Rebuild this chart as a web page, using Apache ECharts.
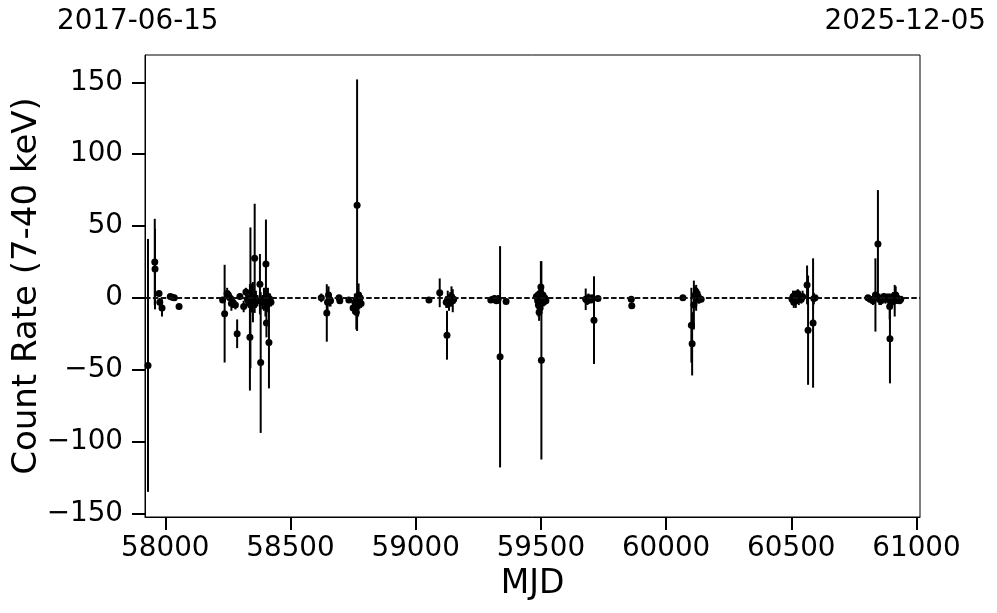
<!DOCTYPE html>
<html>
<head>
<meta charset="utf-8">
<script src="https://cdn.jsdelivr.net/npm/echarts@6/dist/echarts.min.js"></script>
<style>
html,body{margin:0;padding:0;background:#fff;}
#chart{width:997px;height:613px;}
</style>
</head>
<body>
<div id="chart"></div>
<script>
// ---- data ----
const mjd = [
  57931,57958,57959,57975,57978,57987,58020,58028,58036,58055,
  58229,58237,58247,58252,58258,58264,58270,58280,58287,58298,58313,58322,58328,58333,58338,58340,58343,58346,58350,58357,58362,58368,58378,58381,58388,58394,58400,58402,58404,58406,58410,58414,58418,58422,
  58623,58645,58648,58652,58656,58660,58694,58697,58733,58750,58757,58763,58766,58770,58772,58775,58778,58782,
  59053,59096,59122,59125,59128,59133,59138,59143,59148,59152,
  59300,59308,59315,59322,59329,59337,59361,
  59482,59487,59490,59493,59495,59497,59500,59502,59505,59508,59511,59515,59520,
  59679,59686,59690,59695,59700,59705,59712,59728,
  59861,59863,
  60067,60101,60104,60111,60116,60120,60124,60128,60133,60140,
  60503,60507,60510,60514,60518,60522,60526,60530,60535,60540,60545,60563,60567,60587,60590,60595,
  60806,60815,60826,60836,60846,60852,60858,60865,60870,60876,60882,60888,60893,60894,60900,60906,60913,60917,60922,60927,60932,60937
];
const rate = [
  -47,25,20,3,-3,-7,1,0.5,0,-6,
  -1.5,-11,3,2,0,-4,-3,-5,-25,1,-6,4,-1,-3,-27.5,0,-2,0,-3,27.5,-1,-2,9.5,-45,-3,-1,-3,23.5,-17.5,-5,1,-31,-1,-3,
  0,-10.5,-3,2,-1,-2,0,-2,-1.5,-7,-3,-10,64.5,-3,2,-2,0,-4,
  -1.5,3.5,-3,-26,-1,-4,0,1,-2,-1,
  -1.5,-1,-0.5,-2,-1,-41,-2.5,
  1,-2,-5,-10,3,-7,7.5,-43.5,-1,2,-3,0,-2,
  -1,-2,0,-1,-1.5,0,-15.5,-0.5,
  -1,-5.5,
  0,-19,-32,-5,2,0,3,1,-1,-1,
  -1,1,-3,2,-2,0,3,-1,0,-1,1,9,-22.5,-17.5,-0.5,0,
  0,-1,-2,2,37.5,-1,-2,0,1,-1,0,-1,-6,-28.5,-3,1,-2,2,0,-1,-2,-1
];
const err = [
  88,30,28,2,3,6,1.5,1.5,1.5,2,
  2,34,4,3,4,5,4,3,10,2,4,3,5,4,37,49,8,10,14,38,6,4,21,49,5,8,10,31,10,5,6,32,4,3,
  3,20,8,6,5,4,2,2,2,4,6,12,87.5,10,8,6,4,3,
  2,10,4,17,6,5,4,7,8,3,
  2,2,2,2,3,77,2,
  3,6,8,6,5,5,18,69,5,4,3,3,2,
  7.5,3,3,2,2,2,30.5,2,
  1.5,1.5,
  1.5,26,22,17,6,9,4,5,3,2,
  3,4,4,3,5,4,3,4,3,3,4,13.5,38,45,4,2,
  2,2,3,25.5,37.5,4,3,3,2,3,3,4,9,31,4,3,11,6,4,3,2,2
];
const xTicks = [58000,58500,59000,59500,60000,60500,61000];
const yTicks = [-150,-100,-50,0,50,100,150];
const xRange = [57919, 61014];
const yRange = [-152.5, 169];
const dateLabels = ['2017-06-15', '2025-12-05'];
const xName = 'MJD';
const yName = 'Count Rate (7-40 keV)';

// ---- build ----
const pts = mjd.map((m, i) => [m, rate[i]]);
const bars = mjd.map((m, i) => [m, rate[i] - err[i], rate[i] + err[i]]);
const FONT = 'DejaVu Sans';
const minus = v => String(v).replace('-', '\u2212');

const chart = echarts.init(document.getElementById('chart'), null, {renderer: 'canvas'});
chart.setOption({
  animation: false,
  backgroundColor: '#fff',
  grid: {left: 145, right: 77, top: 55, bottom: 96, containLabel: false, outerBoundsMode: 'none',
         show: true, borderColor: '#000', borderWidth: 1, backgroundColor: 'transparent'},
  xAxis: {
    type: 'value', min: xRange[0], max: xRange[1],
    name: xName, nameLocation: 'middle', nameGap: 51, nameMoveOverlap: false,
    nameTextStyle: {fontFamily: FONT, fontSize: 33, color: '#000'},
    axisLine: {show: true, onZero: false, lineStyle: {color: '#000', width: 1}},
    axisTick: {show: true, customValues: xTicks, length: 13, lineStyle: {color: '#000', width: 2}},
    axisLabel: {customValues: xTicks, fontFamily: FONT, fontSize: 27.8, color: '#000', margin: 18, formatter: v => minus(v)},
    splitLine: {show: false}
  },
  yAxis: {
    type: 'value', min: yRange[0], max: yRange[1],
    name: yName, nameLocation: 'middle', nameGap: 101, nameRotate: 90, nameMoveOverlap: false,
    nameTextStyle: {fontFamily: FONT, fontSize: 34, color: '#000'},
    axisLine: {show: true, onZero: false, lineStyle: {color: '#000', width: 1}},
    axisTick: {show: true, customValues: yTicks, length: 13, lineStyle: {color: '#000', width: 2}},
    axisLabel: {customValues: yTicks, fontFamily: FONT, fontSize: 27.8, color: '#000', margin: 22, formatter: v => minus(v)},
    splitLine: {show: false}
  },
  graphic: [
    {type: 'text', left: 57, top: 8, style: {text: dateLabels[0], font: '27.8px "DejaVu Sans"', fill: '#000'}},
    {type: 'text', right: 11, top: 8, style: {text: dateLabels[1], font: '27.8px "DejaVu Sans"', fill: '#000'}}
  ],
  series: [
    {
      type: 'custom',
      data: bars,
      encode: {x: 0, y: [1, 2]},
      z: 2,
      renderItem: function (params, api) {
        const x = api.value(0);
        const p1 = api.coord([x, api.value(1)]);
        const p2 = api.coord([x, api.value(2)]);
        return {type: 'line', shape: {x1: p1[0], y1: p1[1], x2: p2[0], y2: p2[1]}, style: {stroke: '#000', lineWidth: 2}};
      },
      markLine: {
        silent: true, symbol: 'none', label: {show: false},
        lineStyle: {color: '#111', type: [5.5, 2.4], width: 1.8},
        data: [{yAxis: 0}]
      }
    },
    {
      type: 'scatter',
      data: pts,
      symbol: 'circle',
      symbolSize: 7,
      z: 3,
      itemStyle: {color: '#000', opacity: 1}
    }
  ]
});
</script>
</body>
</html>
